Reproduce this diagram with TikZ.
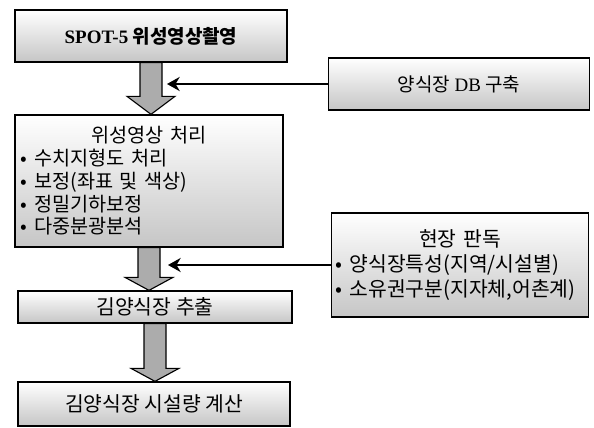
\documentclass[tikz,border=0pt]{standalone}
\usepackage{fontspec}
\setmainfont{Noto Sans CJK KR}
\newfontfamily\romanfont{Liberation Serif}
\usepackage{tikz}
\usetikzlibrary{arrows.meta, calc, positioning}

\tikzset{
  stage/.style={draw, line width=0.9pt, top color=white, bottom color=gray!45,
    inner sep=3pt, font=\fontsize{14.5}{16.5}\selectfont},
  sidebox/.style={stage, font=\fontsize{14.5}{18}\selectfont},
  flowarrow/.style={draw, line width=0.8pt, fill=gray!65},
  feed/.style={line width=1.5pt, -{Stealth[length=9pt,width=10pt]}}
}
% thick block arrow from one stage down to the next
\newcommand{\flowto}[3]{%
  \draw[flowarrow] ($(#1.south)+(-11,0)$) -- ($(#1.south)+(11,0)$)
    -- ($(#1.south |- #2.north)+(11,-#3)$) -- ($(#1.south |- #2.north)+(24,-#3)$)
    -- (#1.south |- #2.north)
    -- ($(#1.south |- #2.north)+(-24,-#3)$) -- ($(#1.south |- #2.north)+(-11,-#3)$)
    -- cycle;}

\begin{document}
\begin{tikzpicture}[x=0.025cm, y=-0.025cm]
\useasboundingbox (0,0) rectangle (594,428);

\node[stage, minimum width=6.8cm, minimum height=1.3cm, font=\fontsize{13.5}{16}\selectfont] (shot) at (151,36)
  {\bfseries{\romanfont SPOT-5} 위성영상촬영};
\node[stage, minimum width=6.7cm, minimum height=3.3cm, text width=6.4cm, align=left,
  font=\fontsize{14}{16.2}\selectfont] (proc) at (149,181)
  {\makebox[6.4cm]{위성영상 처리}\\
   • 수치지형도 처리\\
   • 보정(좌표 및 색상)\\
   • 정밀기하보정\\
   • 다중분광분석};
\node[stage, minimum width=6.85cm, minimum height=0.8cm] (extract) at (155,307) {김양식장 추출};
\node[stage, minimum width=6.8cm, minimum height=1.1cm] (calc) at (154,404) {김양식장 시설량 계산};

\node[sidebox, minimum width=6.525cm, minimum height=1.3cm, font=\fontsize{13.5}{16}\selectfont] (db) at (459,84)
  {양식장 {\romanfont DB} 구축};
\node[sidebox, minimum width=6.4cm, minimum height=2.6cm, text width=6.2cm, align=left] (field) at (460,265)
  {\makebox[6.2cm]{현장 판독}\\
   • 양식장특성(지역/시설별)\\
   • 소유권구분(지자체,어촌계)};

\flowto{shot}{proc}{18}
\flowto{proc}{extract}{13}
\flowto{extract}{calc}{13}

% inputs joining the main flow
\coordinate (dbin) at (167,84);
\coordinate (fieldin) at (168,265);
\draw[feed] (db.west) -- (dbin);
\draw[feed] (field.west) -- (fieldin);
\end{tikzpicture}
\end{document}
